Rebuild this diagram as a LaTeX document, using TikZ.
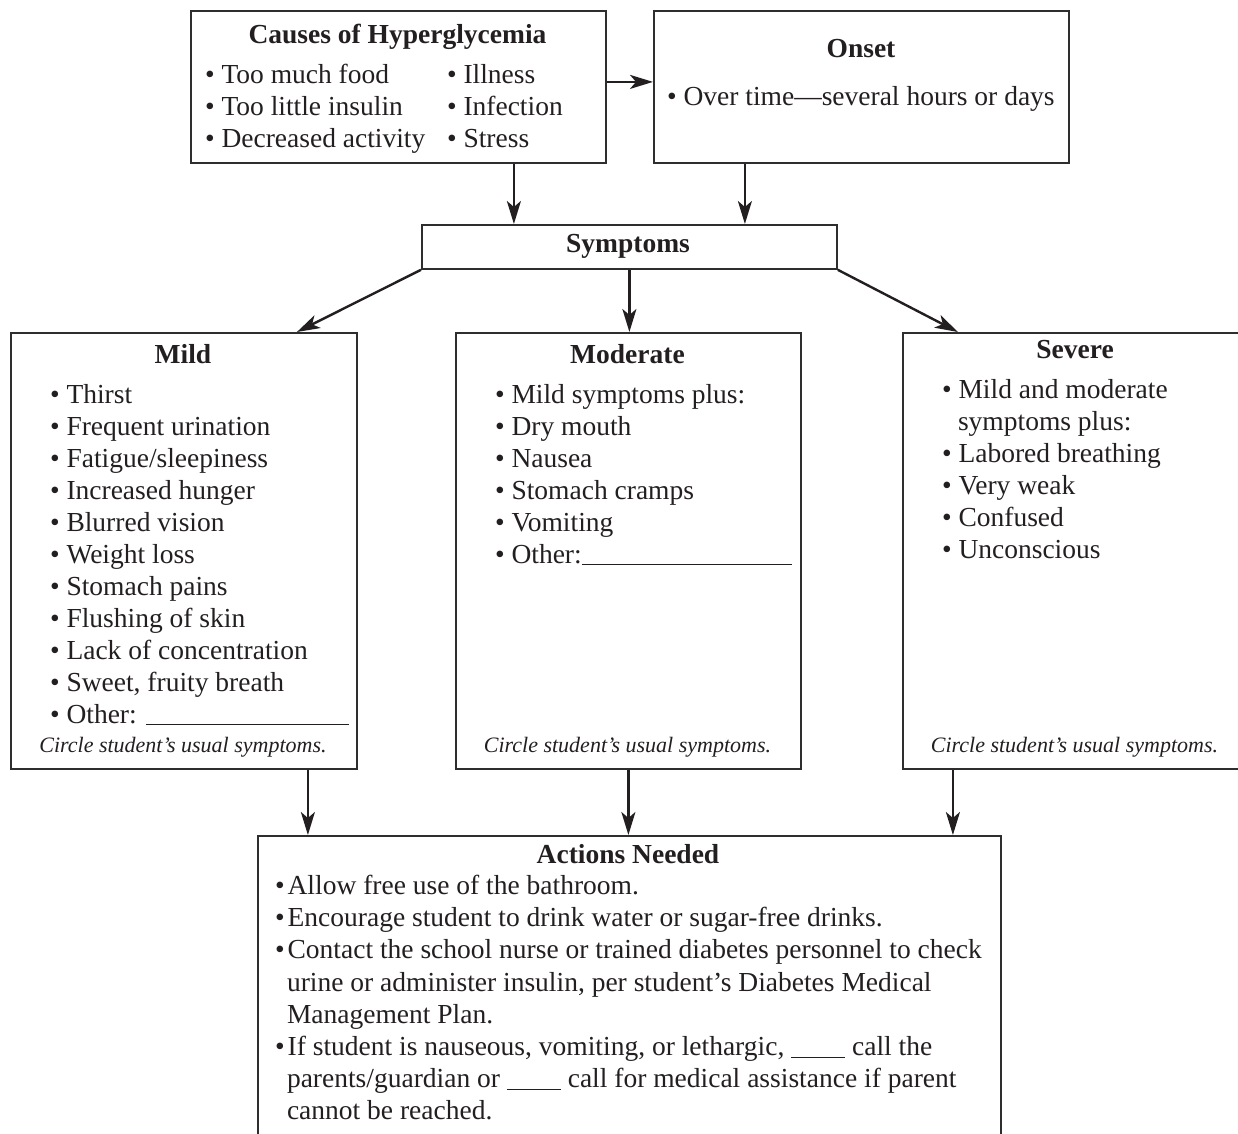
\documentclass[tikz,border=0pt]{standalone}
\usepackage{fontspec}
\setmainfont{Liberation Serif}
\usetikzlibrary{arrows.meta}
\definecolor{ink}{HTML}{231F20}
\definecolor{boxgray}{HTML}{2E2E2E}
\begin{document}
\begin{tikzpicture}[x=1pt,y=-1pt,
  box/.style={draw=boxgray, line width=1.8pt, inner sep=0pt, anchor=north west},
  txt/.style={inner sep=0pt, outer sep=0pt, anchor=base west, text=ink, font=\fontsize{27.5}{32}\selectfont},
  ttl/.style={inner sep=0pt, outer sep=0pt, anchor=base, text=ink, font=\fontsize{27.5}{32}\selectfont\bfseries},
  note/.style={inner sep=0pt, outer sep=0pt, anchor=base, text=ink, font=\fontsize{22}{26}\selectfont\itshape},
  arr/.style={draw=ink, line width=2.4pt, -{Stealth[length=23pt,width=14pt,inset=6pt]}},
]
\useasboundingbox (0,0) rectangle (1238,1133);
\clip (0,0) rectangle (1238,1133);

% boxes
\node[box, minimum width=415pt, minimum height=152pt] (causes) at (190,10) {};
\node[box, minimum width=415pt, minimum height=152pt] (onset) at (653,10) {};
\node[box, minimum width=415pt, minimum height=44pt] (sym) at (421,224) {};
\node[box, minimum width=346pt, minimum height=436pt] (mild) at (10,332) {};
\node[box, minimum width=345pt, minimum height=436pt] (mod) at (455,332) {};
\node[box, minimum width=346pt, minimum height=436pt] (sev) at (902,332) {};
\node[box, minimum width=743pt, minimum height=340pt] (act) at (257,835) {};

% causes
\node[ttl] (causesT) at (397.5,43) {Causes of Hyperglycemia};
\node[txt] (c1) at (205,83) {• Too much food};
\node[txt] (c2) at (205,115) {• Too little insulin};
\node[txt] (c3) at (205,147) {• Decreased activity};
\node[txt] (c4) at (447,83) {• Illness};
\node[txt] (c5) at (447,115) {• Infection};
\node[txt] (c6) at (447,147) {• Stress};

% onset
\node[ttl] (onsetT) at (861,57) {Onset};
\node[txt] (o1) at (667,105) {• Over time—several hours or days};

% symptoms
\node[ttl] (symT) at (628,252) {Symptoms};

% mild
\node[ttl] (mildT) at (183,363) {Mild};
\foreach \itm [count=\i] in {Thirst, Frequent urination, Fatigue/sleepiness, Increased hunger, Blurred vision, Weight loss, Stomach pains, Flushing of skin, Lack of concentration, {Sweet, fruity breath}}
  \node[txt] (mild\i) at (50,{371+32*\i}) {• \itm};
\node[txt] (mild11) at (50,723) {• Other: \rule[-2pt]{203pt}{1.2pt}};
\node[note] (mildN) at (183,752) {Circle student’s usual symptoms.};

% moderate
\node[ttl] (modT) at (627.5,363) {Moderate};
\foreach \itm [count=\i] in {Mild symptoms plus:, Dry mouth, Nausea, Stomach cramps, Vomiting}
  \node[txt] (mod\i) at (495,{371+32*\i}) {• \itm};
\node[txt] (mod6) at (495,563) {• Other:\rule[-2pt]{210pt}{1.2pt}};
\node[note] (modN) at (627.5,752) {Circle student’s usual symptoms.};

% severe
\node[ttl] (sevT) at (1075,358) {Severe};
\node[txt] (sev1) at (942,398) {• Mild and moderate};
\node[txt] (sev2) at (958,430) {symptoms plus:};
\foreach \itm [count=\i from 3] in {Labored breathing, Very weak, Confused, Unconscious}
  \node[txt] (sev\i) at (942,{366+32*\i}) {• \itm};
\node[note] (sevN) at (1074.5,752) {Circle student’s usual symptoms.};

% actions
\node[ttl] (actT) at (628,863) {Actions Needed};
\node[txt] (a1) at (275,894) {•\kern3pt Allow free use of the bathroom.};
\node[txt] (a2) at (275,926) {•\kern3pt Encourage student to drink water or sugar-free drinks.};
\node[txt] (a3) at (275,958) {•\kern3pt Contact the school nurse or trained diabetes personnel to check};
\node[txt] (a4) at (287,991) {urine or administer insulin, per student’s Diabetes Medical};
\node[txt] (a5) at (287,1023) {Management Plan.};
\node[txt] (a6) at (275,1055) {•\kern3pt If student is nauseous, vomiting, or lethargic, \rule[-3pt]{54pt}{1.2pt} call the};
\node[txt] (a7) at (287,1087) {parents/guardian or \rule[-3pt]{54pt}{1.2pt} call for medical assistance if parent};
\node[txt] (a8) at (287,1119) {cannot be reached.};

% connectors
\draw[arr] ([yshift=5pt]causes.east) -- ([yshift=5pt]causes.east -| onset.west);
\draw[arr] ([xshift=115.5pt]causes.south) -- ([xshift=115.5pt]causes.south |- sym.north);
\draw[arr] ([xshift=-116.5pt]onset.south) -- ([xshift=-116.5pt]onset.south |- sym.north);
\draw[arr] (sym.south) -- (sym.south |- mod.north);
\draw[arr] (sym.south west) -- ([xshift=113pt]mild.north);
\draw[arr] (sym.south east) -- ([xshift=-118pt]sev.north);
\draw[arr] ([xshift=124pt]mild.south) -- ([xshift=124pt]mild.south |- act.north);
\draw[arr] (mod.south) -- (mod.south |- act.north);
\draw[arr] ([xshift=-123pt]sev.south) -- ([xshift=-123pt]sev.south |- act.north);
\end{tikzpicture}
\end{document}
